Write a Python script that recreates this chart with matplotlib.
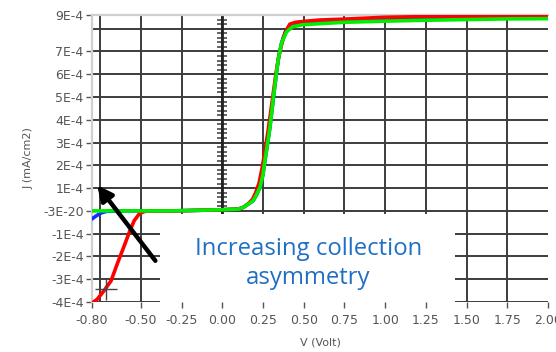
import numpy as np
import matplotlib
matplotlib.use("Agg")
import matplotlib.pyplot as plt
from matplotlib.patches import Rectangle

# J-V curves (J in units of 1E-4 mA/cm2)
red_v = [-0.80, -0.768, -0.728, -0.683, -0.642, -0.602, -0.571, -0.541, -0.51, -0.48, -0.45,
         -0.30, 0.00, 0.10, 0.13, 0.16, 0.185, 0.205, 0.225, 0.245, 0.26, 0.28, 0.305, 0.33,
         0.35, 0.375, 0.395, 0.415, 0.45, 0.50, 0.60, 0.75, 1.00, 1.25, 1.50, 1.75, 2.00]
red_j = [-4.05, -3.88, -3.52, -3.07, -2.27, -1.53, -0.94, -0.43, -0.13, -0.03, 0.0,
         0.0, 0.05, 0.08, 0.16, 0.32, 0.50, 0.80, 1.20, 1.90, 2.55, 3.45, 4.75, 6.05,
         6.90, 7.60, 7.95, 8.20, 8.28, 8.32, 8.38, 8.42, 8.50, 8.53, 8.54, 8.55, 8.55]

blue_v = [-0.80, -0.77, -0.744, -0.71, -0.60, -0.30, 0.00, 0.10, 0.13, 0.16, 0.19, 0.21,
          0.232, 0.25, 0.262, 0.28, 0.293, 0.317, 0.343, 0.364, 0.39, 0.42, 0.46, 0.50,
          0.60, 0.75, 1.00, 1.25, 1.50, 1.75, 2.00]
blue_j = [-0.35, -0.20, -0.09, -0.02, 0.0, 0.0, 0.05, 0.08, 0.16, 0.30, 0.45, 0.70,
          1.04, 1.60, 2.22, 3.05, 3.69, 5.16, 6.63, 7.37, 7.92, 8.13, 8.20, 8.24,
          8.30, 8.35, 8.44, 8.47, 8.50, 8.51, 8.52]

green_v = [-0.80, -0.60, -0.30, 0.00, 0.10, 0.13, 0.16, 0.19, 0.21, 0.232, 0.25, 0.262,
           0.28, 0.293, 0.317, 0.343, 0.364, 0.394, 0.43, 0.49, 0.60, 0.75, 1.00, 1.25,
           1.50, 1.75, 2.00]
green_j = [0.0, 0.0, 0.0, 0.05, 0.08, 0.16, 0.30, 0.45, 0.70, 1.04, 1.60, 2.22,
           3.05, 3.69, 5.16, 6.63, 7.37, 7.85, 8.08, 8.17, 8.22, 8.28, 8.33, 8.37,
           8.40, 8.43, 8.44]

x_ticks = [-0.80, -0.50, -0.25, 0.00, 0.25, 0.50, 0.75, 1.00, 1.25, 1.50, 1.75, 2.00]
x_tick_labels = ["-0.80", "-0.50", "-0.25", "0.00", "0.25", "0.50", "0.75", "1.00",
                 "1.25", "1.50", "1.75", "2.00"]
y_ticks = [-4, -3, -2, -1, 0, 1, 2, 3, 4, 5, 6, 7, 8.6]
y_tick_labels = ["-4E-4", "-3E-4", "-2E-4", "-1E-4", "-3E-20", "1E-4", "2E-4", "3E-4",
                 "4E-4", "5E-4", "6E-4", "7E-4", "9E-4"]
x_grid = [-0.75, -0.50, -0.25, 0.00, 0.25, 0.50, 0.75, 1.00, 1.25, 1.50, 1.75]
y_grid = [-4, -3, -2, -1, 0, 1, 2, 3, 4, 5, 6, 7, 8]

scale = 1e-4
cursor = (-0.717, -3.43)
arrow_tail = (-0.411, -2.19)
arrow_head = (-0.767, 1.12)

fig = plt.figure(figsize=(5.56, 3.52), dpi=100)
ax = fig.add_axes([92 / 556, 1 - 302 / 352, 456 / 556, 287 / 352])
ax.set_xlim(-0.80, 2.00)
ax.set_ylim(-4.0 * scale, 8.6 * scale)

grid_color = "#3c3c3c"
for gx in x_grid:
    ax.axvline(gx, color=grid_color, lw=1.4, zorder=1)
for gy in y_grid:
    ax.axhline(gy * scale, color=grid_color, lw=1.4, zorder=1)

# minor crosses on the zero voltage axis
ax.hlines(np.arange(0.2, 8.5, 0.2) * scale, -0.032, 0.032, color=grid_color, lw=1.1, zorder=1)
ax.axvline(0, color="#222222", lw=2.0, zorder=1)

# white label box covering part of the grid
ax.add_patch(Rectangle((-0.38, -4.0 * scale), 1.81, 3.87 * scale, facecolor="white",
                       edgecolor="none", zorder=2))

ax.plot(blue_v, np.array(blue_j) * scale, color="#1030ff", lw=2.6, zorder=3)
ax.plot(red_v, np.array(red_j) * scale, color="#ff0000", lw=2.6, zorder=3)
ax.plot(green_v, np.array(green_j) * scale, color="#00ee00", lw=2.6, zorder=4)

ax.plot(cursor[0], cursor[1] * scale, marker="+", ms=16, mew=1.0, color="#444444", zorder=5)

ax.annotate("", xy=(arrow_head[0], arrow_head[1] * scale),
            xytext=(arrow_tail[0], arrow_tail[1] * scale),
            arrowprops=dict(arrowstyle="-|>", lw=3.2, color="black", mutation_scale=22,
                            shrinkA=0, shrinkB=0), zorder=6)

ax.text(0.53, -2.30 * scale, "Increasing collection\nasymmetry", ha="center", va="center",
        fontsize=17.2, family="Open Sans", color="#1f6fc5", linespacing=1.3, zorder=7)

for side in ["right", "bottom"]:
    ax.spines[side].set_visible(False)
for side in ["left", "top"]:
    ax.spines[side].set_color("#cfcfcf")
    ax.spines[side].set_linewidth(1.6)

ax.set_xticks(x_ticks)
ax.set_xticklabels(x_tick_labels)
ax.set_yticks(np.array(y_ticks) * scale)
ax.set_yticklabels(y_tick_labels)
ax.tick_params(axis="both", direction="out", length=4, width=1.0, color="#555555",
               labelsize=9, labelcolor="#555555")
ax.tick_params(axis="x", pad=5)
ax.tick_params(axis="y", pad=2)

ax.set_xlabel("V (Volt)", fontsize=8, color="#555555", labelpad=7)
ax.set_ylabel("J (mA/cm2)", fontsize=8, color="#555555", labelpad=7)

fig.savefig("out.png", dpi=100)
